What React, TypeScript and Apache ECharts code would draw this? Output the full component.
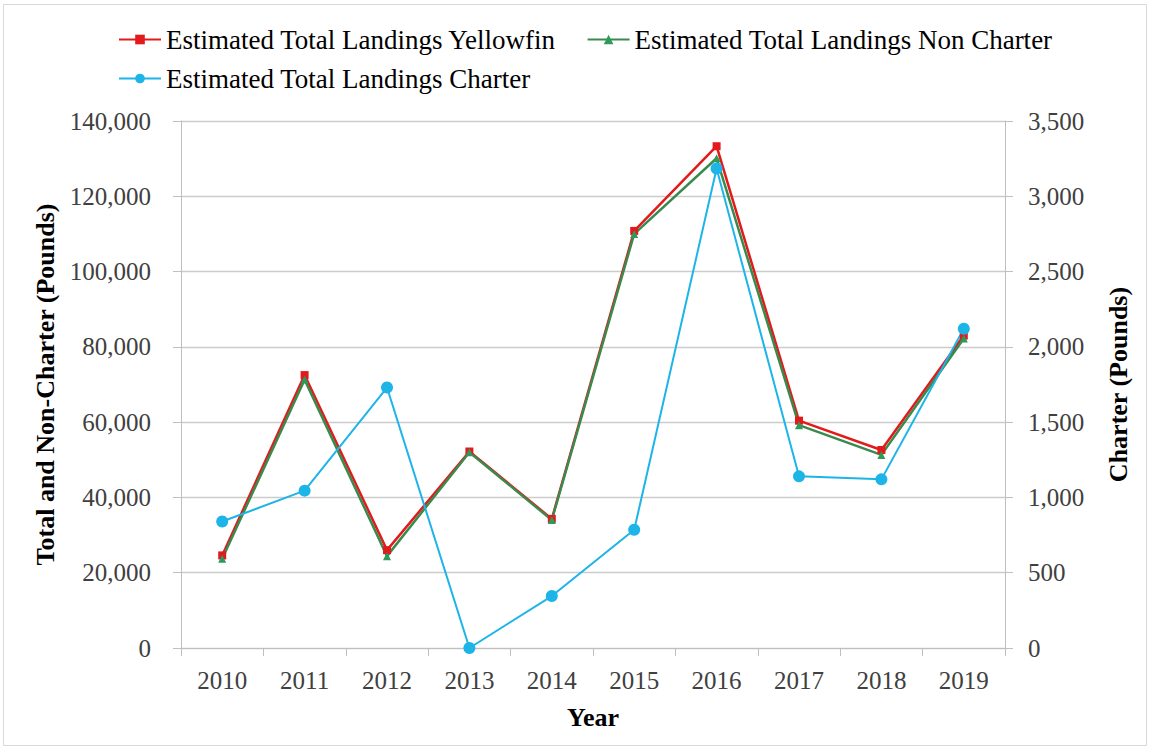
import React, { useEffect, useRef } from "react";
import * as echarts from "echarts";

const years = ["2010", "2011", "2012", "2013", "2014", "2015", "2016", "2017", "2018", "2019"];
const yellowfin = [24600, 72500, 26000, 52200, 34300, 110800, 133300, 60400, 52600, 83000];
const nonCharter = [23700, 71300, 24400, 52000, 34000, 110000, 130100, 59200, 51300, 82200];
const charter = [840, 1045, 1730, 0, 345, 785, 3185, 1140, 1120, 2120];

const seriesNames = [
  "Estimated Total Landings Yellowfin",
  "Estimated Total Landings Non Charter",
  "Estimated Total Landings Charter",
];

const FONT = "'Liberation Serif', 'Times New Roman', serif";
const fmt = (v: number) => v.toLocaleString("en-US");

export default function App() {
  const ref = useRef<HTMLDivElement>(null);
  useEffect(() => {
    if (!ref.current) return;
    const chart = echarts.init(ref.current, undefined, { renderer: "svg" });
    const axisLabel = { fontFamily: FONT, fontSize: 25, color: "#404040" };
    const nameStyle = { fontFamily: FONT, fontSize: 26, fontWeight: "bold", color: "#000" };
    const legendText = { fontFamily: FONT, fontSize: 27, color: "#000" };
    chart.setOption({
      animation: false,
      backgroundColor: "#fff",
      textStyle: { fontFamily: FONT },
      graphic: [
        {
          type: "rect",
          shape: { x: 3.5, y: 4.5, width: 1143, height: 741 },
          style: { fill: "none", stroke: "#d9d9d9", lineWidth: 1 },
          silent: true,
        },
      ],
      legend: [
        {
          data: [seriesNames[0], seriesNames[1]],
          left: 113,
          top: 21,
          padding: 5,
          itemWidth: 42,
          itemHeight: 12,
          itemGap: 30,
          textStyle: legendText,
        },
        {
          data: [seriesNames[2]],
          left: 113,
          top: 60,
          padding: 5,
          itemWidth: 42,
          itemHeight: 12,
          textStyle: legendText,
        },
      ],
      grid: { left: 181, right: 146, top: 121, bottom: 102, containLabel: false },
      xAxis: {
        type: "category",
        data: years,
        boundaryGap: true,
        name: "Year",
        nameLocation: "middle",
        nameGap: 56,
        nameTextStyle: nameStyle,
        axisLine: { lineStyle: { color: "#bfbfbf", width: 1 } },
        axisTick: { show: true, length: 8, lineStyle: { color: "#bfbfbf" } },
        axisLabel: { ...axisLabel, margin: 20 },
      },
      yAxis: [
        {
          type: "value",
          min: 0,
          max: 140000,
          interval: 20000,
          name: "Total and Non-Charter (Pounds)",
          nameLocation: "middle",
          nameRotate: 90,
          nameGap: 123,
          nameTextStyle: nameStyle,
          axisLine: { show: true, lineStyle: { color: "#bfbfbf", width: 1 } },
          axisTick: { show: true, length: 8, lineStyle: { color: "#bfbfbf" } },
          axisLabel: { ...axisLabel, margin: 30, formatter: (v: number) => fmt(v) },
          splitLine: { show: true, lineStyle: { color: "#cccccc", width: 1.3 } },
        },
        {
          type: "value",
          min: 0,
          max: 3500,
          interval: 500,
          position: "right",
          name: "Charter (Pounds)",
          nameLocation: "middle",
          nameRotate: 90,
          nameGap: 100,
          nameTextStyle: nameStyle,
          axisLine: { show: true, lineStyle: { color: "#bfbfbf", width: 1 } },
          axisTick: { show: true, length: 8, lineStyle: { color: "#bfbfbf" } },
          axisLabel: { ...axisLabel, margin: 23, formatter: (v: number) => fmt(v) },
          splitLine: { show: false },
        },
      ],
      series: [
        {
          name: seriesNames[0],
          type: "line",
          data: yellowfin,
          yAxisIndex: 0,
          symbol: "rect",
          symbolSize: 8,
          lineStyle: { color: "#E31A1C", width: 2.5 },
          itemStyle: { color: "#E31A1C" },
        },
        {
          name: seriesNames[1],
          type: "line",
          data: nonCharter,
          yAxisIndex: 0,
          symbol: "triangle",
          symbolSize: 8,
          lineStyle: { color: "#3A8A4E", width: 2.5 },
          itemStyle: { color: "#2E9A5A" },
        },
        {
          name: seriesNames[2],
          type: "line",
          data: charter,
          yAxisIndex: 1,
          symbol: "circle",
          symbolSize: 12,
          lineStyle: { color: "#1DB4E8", width: 2 },
          itemStyle: { color: "#1DB4E8" },
        },
      ],
    });
    return () => chart.dispose();
  }, []);
  return (
    <div
      ref={ref}
      style={{ position: "fixed", left: 0, top: 0, width: 1151, height: 750 }}
    />
  );
}
